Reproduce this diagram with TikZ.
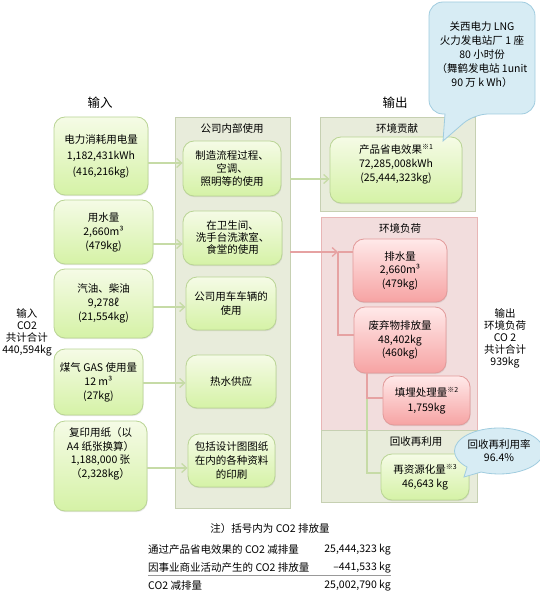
\documentclass[tikz,border=0pt]{standalone}
\usepackage{fontspec}
\setmainfont{Noto Sans CJK SC}
\usetikzlibrary{arrows.meta,shadows,shapes.callouts,calc}
\definecolor{gtop}{HTML}{F5FBE6}
\definecolor{gbot}{HTML}{D5F2A6}
\definecolor{gborder}{HTML}{B9D494}
\definecolor{rtop}{HTML}{FFE9E9}
\definecolor{rbot}{HTML}{F6A3A3}
\definecolor{rborder}{HTML}{E29A9A}
\definecolor{pgfill}{HTML}{E8ECDB}
\definecolor{pgborder}{HTML}{C6D0B2}
\definecolor{ppfill}{HTML}{F2DDDD}
\definecolor{ppborder}{HTML}{E8B6B6}
\definecolor{bfill}{HTML}{D7ECF4}
\definecolor{bborder}{HTML}{A0CCDF}
\definecolor{garr}{HTML}{C6DBA6}
\definecolor{parr}{HTML}{E6A2A2}
\newcommand\mybody{\fontsize{10.5}{13}\selectfont}
\newcommand\mysup[1]{{\fontsize{7}{7}\selectfont\raisebox{3.5pt}{#1}}}
\begin{document}
\begin{tikzpicture}[x=1pt,y=-1pt,
  txt/.style={inner sep=0pt, align=center, font=\mybody},
  box/.style={rounded corners=11pt, line width=0.8pt, inner sep=0pt, align=center, font=\mybody,
    drop shadow={opacity=0.18, shadow xshift=0.6pt, shadow yshift=-1.2pt}},
  gbox/.style={box, draw=gborder, top color=gtop, bottom color=gbot},
  rbox/.style={box, draw=rborder, top color=rtop, bottom color=rbot},
  panel/.style={line width=0.8pt, inner sep=0pt,
    drop shadow={opacity=0.18, shadow xshift=0.8pt, shadow yshift=-1pt}},
  gpanel/.style={panel, draw=pgborder, fill=pgfill},
  ppanel/.style={panel, draw=ppborder, fill=ppfill},
  garrow/.style={draw=garr, line width=1.3pt, -{Straight Barb[length=5pt,width=9pt]}},
  parrow/.style={draw=parr, line width=1.3pt, -{Straight Barb[length=5pt,width=9pt]}},
  gline/.style={draw=garr, line width=1.1pt},
  pline/.style={draw=parr, line width=1.1pt},
  heading/.style={inner sep=0pt, font=\fontsize{12.5}{14}\selectfont},
  bubble/.style={draw=bborder, fill=bfill, line width=0.8pt}
]
\useasboundingbox (0,0) rectangle (539,607);

% headings
\node[heading] (hin) at (100,103) {输入};
\node[heading] (hout) at (395,103) {输出};

% panels
\node[gpanel, minimum width=115pt, minimum height=391pt] (midp) at (232.5,312.5) {};
\node[txt] (midt) at (232,129) {公司内部使用};
\node[gpanel, minimum width=155pt, minimum height=94pt] (contp) at (397.5,164) {};
\node[txt] (contt) at (397,128) {环境贡献};
\node[ppanel, minimum width=156pt, minimum height=213pt] (loadp) at (399,323.5) {};
\node[txt] (loadt) at (400,228) {环境负荷};
\node[gpanel, minimum width=156pt, minimum height=72pt] (recp) at (399,466) {};
\node[txt] (rect) at (416,442) {回收再利用};

% input boxes
\node[gbox, minimum width=94pt, minimum height=78pt, font=\fontsize{10.5}{16}\selectfont] (in1) at (101,156) {电力消耗用电量\\1,182,431kWh\\(416,216kg)};
\node[gbox, minimum width=99pt, minimum height=64pt, font=\fontsize{10.5}{14}\selectfont] (in2) at (103.5,232) {用水量\\2,660m³\\(479kg)};
\node[gbox, minimum width=99pt, minimum height=69pt, font=\fontsize{10.5}{14}\selectfont] (in3) at (103.5,303.5) {汽油、柴油\\9,278ℓ\\(21,554kg)};
\node[gbox, minimum width=89pt, minimum height=66pt, font=\fontsize{10.5}{14}\selectfont] (in4) at (98.5,382) {煤气 GAS 使用量\\12 m³\\(27kg)};
\node[gbox, minimum width=93pt, minimum height=90pt] (in5) at (100.5,466) {};
\node[txt, font=\fontsize{10.5}{13.5}\selectfont] (in5t) at (100.5,454) {复印用纸（以\\A4 纸张换算）\\1,188,000 张\\（2,328kg）};

% middle boxes
\node[gbox, minimum width=98pt, minimum height=55pt] (m1) at (232,168.5) {制造流程过程、\\空调、\\照明等的使用};
\node[gbox, minimum width=99pt, minimum height=54pt, font=\fontsize{10.5}{12}\selectfont] (m2) at (232.5,238) {在卫生间、\\洗手台洗漱室、\\食堂的使用};
\node[gbox, minimum width=90pt, minimum height=53pt, font=\fontsize{10.5}{14}\selectfont] (m3) at (231,303.5) {公司用车车辆的\\使用};
\node[gbox, minimum width=90pt, minimum height=53pt] (m4) at (231,381.5) {热水供应};
\node[gbox, minimum width=87pt, minimum height=53pt, font=\fontsize{10.5}{14}\selectfont] (m5) at (231.5,460.5) {包括设计图图纸\\在内的各种资料\\的印刷};

% output boxes
\node[gbox, minimum width=132pt, minimum height=66pt] (out1) at (396,170) {};
\node[txt, font=\fontsize{10.5}{14}\selectfont] (out1t) at (396,164) {产品省电效果\mysup{※1}\\72,285,008kWh\\(25,444,323kg)};
\node[rbox, minimum width=94pt, minimum height=63pt, font=\fontsize{10.5}{13.5}\selectfont] (r1) at (400,270.5) {排水量\\2,660m³\\(479kg)};
\node[rbox, minimum width=92pt, minimum height=66pt, font=\fontsize{10.5}{13.5}\selectfont] (r2) at (400,340) {废弃物排放量\\48,402kg\\(460kg)};
\node[rbox, minimum width=87pt, minimum height=49pt, font=\fontsize{10.5}{15}\selectfont] (r3) at (426.5,400.5) {填埋处理量\mysup{※2}\\1,759kg};
\node[gbox, minimum width=88pt, minimum height=46pt, font=\fontsize{10.5}{14}\selectfont] (g1) at (425,477) {再资源化量\mysup{※3}\\46,643 kg};

% connectors input -> middle
\draw[garrow] (in1.east |- 0,163) -- (m1.west |- 0,163);
\draw[garrow] (in2.east |- 0,244) -- (m2.west |- 0,244);
\draw[garrow] (in3.east |- 0,307) -- (m3.west |- 0,307);
\draw[garrow] (in4.east |- 0,383) -- (m4.west |- 0,383);
\draw[garrow] (in5.east |- 0,468) -- (m5.west |- 0,468);
% middle -> output
\draw[garrow] (midp.east |- 0,179) -- (out1.west |- 0,179);
\coordinate (jn) at (338,252);
\draw[pline] (jn) -- (r1.west |- jn);
\draw[pline] (jn) |- (r2.west |- 0,335);
\draw[parrow] (midp.east |- jn) -- (jn);
\coordinate (wj) at (367,398);
\draw[gline] (wj) |- (g1.west |- 0,473);
\draw[pline] (r2.south -| wj) |- (r3.west |- wj);

% side labels
\node[txt, font=\fontsize{10.5}{12}\selectfont] (inlbl) at (27,332) {输入\\CO2\\共计合计\\440,594kg};
\node[txt, font=\fontsize{10.5}{12}\selectfont] (outlbl) at (505,338) {输出\\环境负荷\\CO 2\\共计合计\\939kg};

% big bubble
\draw[bubble] (443,141) -- (445,114) [rounded corners=14pt] -- (429,114) -- (429,2) -- (535,2) -- (535,114) -- (474,114) [sharp corners] -- cycle;
\node[txt, font=\fontsize{10.5}{14}\selectfont] (bubt) at (482,55) {关西电力 LNG\\火力发电站厂 1 座\\80 小时份\\（舞鹤发电站 1unit\\90 万 k Wh）};

% small bubble
\node[ellipse callout, draw=bborder, fill=bfill, line width=0.8pt, minimum width=77pt, minimum height=46pt,
  inner sep=0pt, align=center, font=\fontsize{10.5}{13}\selectfont,
  callout absolute pointer={(464,477)}, callout pointer arc=22] (rate) at (499,451) {回收再利用率\\96.4\%};

% notes
\node[txt] (note) at (270,529) {注）括号内为 CO2 排放量};
\node[txt, anchor=west] (n1l) at (148,550) {通过产品省电效果的 CO2 减排量};
\node[txt, anchor=east] (n1r) at (391,550) {25,444,323 kg};
\node[txt, anchor=west] (n2l) at (148,568) {因事业商业活动产生的 CO2 排放量};
\node[txt, anchor=east] (n2r) at (391,568) {–441,533 kg};
\node[txt, anchor=west] (n3l) at (148,586) {CO2 减排量};
\node[txt, anchor=east] (n3r) at (391,586) {25,002,790 kg};
\draw[line width=0.9pt, black!40] (n2l.west |- 0,575) -- (n2r.east |- 0,575);
\end{tikzpicture}
\end{document}
